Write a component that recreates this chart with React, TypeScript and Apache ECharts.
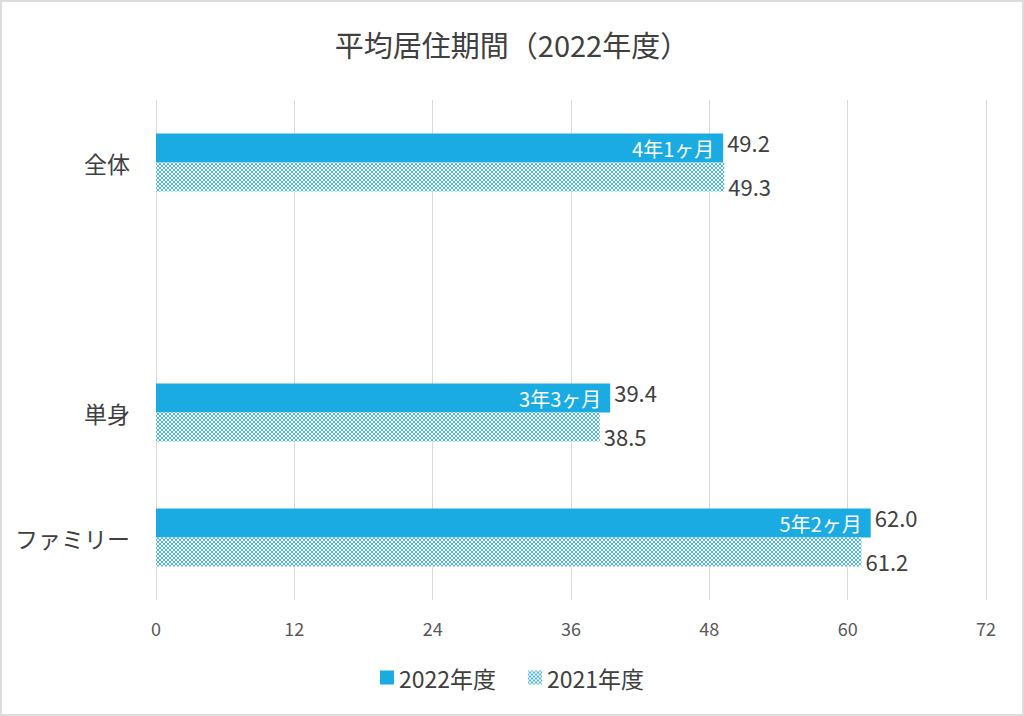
import React, { useEffect, useRef } from "react";
import * as echarts from "echarts";

const categories = ["全体", "", "単身", "ファミリー"];
const values2022 = [49.2, null, 39.4, 62.0];
const values2021 = [49.3, null, 38.5, 61.2];
const durations2022 = ["4年1ヶ月", "", "3年3ヶ月", "5年2ヶ月"];
const xTicks = { min: 0, max: 72, interval: 12 };
const seriesNames = ["2022年度", "2021年度"];
const titleText = "平均居住期間（2022年度）";

const FONT = "'Noto Sans CJK JP', 'Noto Sans', sans-serif";

function makePattern(): HTMLCanvasElement {
  const c = document.createElement("canvas");
  c.width = 4;
  c.height = 4;
  const ctx = c.getContext("2d")!;
  ctx.fillStyle = "#ffffff";
  ctx.fillRect(0, 0, 4, 4);
  ctx.fillStyle = "#4cb9df";
  const pts = [
    [0, 0], [1, 1], [2, 2], [3, 3],
    [3, 0], [2, 1], [1, 2], [0, 3],
  ];
  pts.forEach(([x, y]) => ctx.fillRect(x, y, 1, 1));
  return c;
}

export default function App() {
  const ref = useRef<HTMLDivElement>(null);
  useEffect(() => {
    if (!ref.current) return;
    const chart = echarts.init(ref.current, undefined, { renderer: "svg" });
    const pattern = { image: makePattern(), repeat: "repeat" } as any;
    const DW = 100;
    chart.setOption({
      animation: false,
      backgroundColor: "#ffffff",
      textStyle: { fontFamily: FONT },
      title: {
        text: titleText,
        left: "center",
        top: 24,
        textStyle: { fontFamily: FONT, fontSize: 29, fontWeight: "normal", color: "#404040" },
      },
      legend: {
        bottom: 22,
        left: "center",
        itemWidth: 14,
        itemHeight: 14,
        itemGap: 32,
        itemStyle: { borderWidth: 0 },
        textStyle: { fontFamily: FONT, fontSize: 23, color: "#404040" },
        data: [
          { name: seriesNames[0], icon: "rect" },
          { name: seriesNames[1], icon: "rect" },
        ],
      },
      grid: { left: 156, right: 38, top: 100, bottom: 116, containLabel: false },
      xAxis: {
        type: "value",
        min: xTicks.min,
        max: xTicks.max,
        interval: xTicks.interval,
        axisLine: { show: false },
        axisTick: { show: false },
        splitLine: { show: true, lineStyle: { color: "#d9d9d9", width: 1 } },
        axisLabel: { color: "#595959", fontSize: 18, fontFamily: FONT, margin: 19 },
      },
      yAxis: {
        type: "category",
        inverse: true,
        data: categories,
        axisLine: { show: false },
        axisTick: { show: false },
        axisLabel: { color: "#404040", fontSize: 23, fontFamily: FONT, margin: 26 },
      },
      series: [
        {
          name: seriesNames[0],
          type: "bar",
          data: values2022,
          barWidth: 29,
          barGap: "0%",
          itemStyle: { color: "#1aabe2" },
          label: {
            show: true,
            position: "right",
            distance: 0,
            offset: [-DW, 0],
            formatter: (p: any) =>
              `{d|${durations2022[p.dataIndex]}}{v|${Number(p.value).toFixed(1)}}`,
            rich: {
              d: { width: DW, align: "right", color: "#ffffff", fontSize: 20, fontFamily: FONT },
              v: { color: "#404040", fontSize: 22, fontFamily: FONT, padding: [0, 0, 12, 4] },
            },
          },
        },
        {
          name: seriesNames[1],
          type: "bar",
          data: values2021,
          barWidth: 29,
          itemStyle: { color: pattern },
          label: {
            show: true,
            position: "right",
            distance: 4,
            offset: [0, 9],
            color: "#404040",
            fontSize: 22,
            fontFamily: FONT,
            formatter: (p: any) => Number(p.value).toFixed(1),
          },
        },
      ],
    });
    return () => chart.dispose();
  }, []);
  return (
    <div style={{ position: "fixed", left: 0, top: 0, width: 1024, height: 716 }}>
      <div ref={ref} style={{ width: 1024, height: 716 }} />
      <div
        style={{
          position: "absolute",
          left: 0,
          top: 0,
          width: 1024,
          height: 716,
          boxSizing: "border-box",
          border: "2px solid #dcdcdc",
          pointerEvents: "none",
        }}
      />
    </div>
  );
}
